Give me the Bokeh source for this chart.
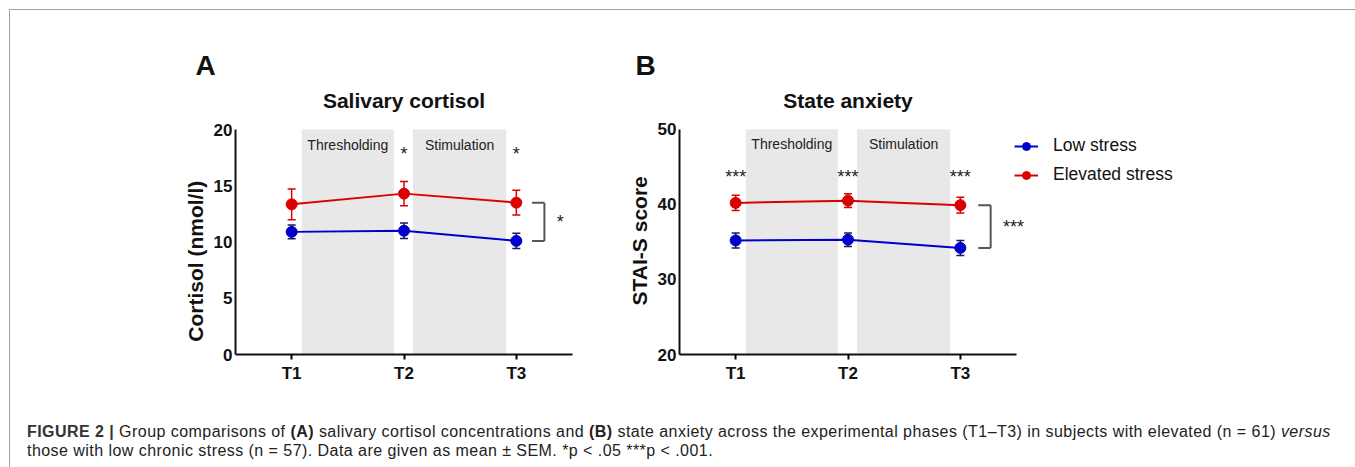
from bokeh.plotting import figure
from bokeh.models import (Range1d, FixedTicker, Label, Legend, LegendItem, Whisker,
                          ColumnDataSource, Div, TeeHead, Title)
from bokeh.layouts import row, column
from bokeh.embed import file_html
from bokeh.resources import INLINE
from bokeh.core.properties import value

# ---------------- data ----------------
phases = ["T1", "T2", "T3"]
xpos = [1, 2, 3]

cort_low = [10.9, 11.0, 10.1]
cort_low_sem = [0.62, 0.68, 0.68]
cort_high = [13.35, 14.3, 13.5]
cort_high_sem = [1.37, 1.07, 1.1]
cort_stars = ["", "*", "*"]
cort_group_star = "*"

anx_low = [35.2, 35.3, 34.2]
anx_low_sem = [1.0, 0.9, 1.0]
anx_high = [40.2, 40.5, 39.9]
anx_high_sem = [1.0, 0.9, 1.05]
anx_stars = ["***", "***", "***"]
anx_group_star = "***"

phase_names = ["Thresholding", "Stimulation"]
phase_start = [1.09, 2.08]
phase_end = [1.91, 2.91]

series_names = ["Low stress", "Elevated stress"]

RED = "#dd0000"
BLUE = "#0000cc"
BLUE_ERR = "#1c1c50"
FONT = "Liberation Sans"
NBSP = "\u00a0"

CANVAS_H = 390
FRAME_TOP = 70  # px from canvas top


def make_panel(letter, title, ylabel, ylabel_pad, ymin, ymax, yticks, low, low_sem, high, high_sem,
               stars, star_y, group_star, bracket_x, phase_label_y, title_y,
               width, min_left, frame_w, frame_h_axis, bottom_border, letter_offset,
               legend=False):
    px_per_x = frame_w / 3.0
    frame_w_total = width - min_left
    x_end = 0.5 + frame_w_total / px_per_x
    frame_h_total = CANVAS_H - FRAME_TOP - bottom_border
    px_per_y = frame_h_axis / (ymax - ymin)
    y_end = ymin + frame_h_total / px_per_y

    p = figure(width=width, height=CANVAS_H, output_backend="svg", toolbar_location=None,
               x_range=Range1d(0.5, x_end), y_range=Range1d(ymin, y_end),
               min_border_left=min_left, min_border_right=0,
               min_border_top=FRAME_TOP, min_border_bottom=bottom_border,
               background_fill_color=None, border_fill_color=None, outline_line_color=None)
    p.grid.visible = False

    # panel letter as a title in the top panel
    t = Title(text=letter, align="left", offset=letter_offset, standoff=0,
              text_font=FONT, text_font_size="28px", text_font_style="bold",
              text_color="#111111", vertical_align="bottom")
    p.add_layout(t, "above")

    # shaded phases
    p.quad(left=phase_start, right=phase_end, bottom=[ymin] * 2, top=[ymax] * 2,
           fill_color="#e8e8e8", line_color=None)
    p.text(x=[(a + b) / 2 for a, b in zip(phase_start, phase_end)], y=[phase_label_y] * 2,
           text=phase_names, text_font=value(FONT), text_font_size="14px",
           text_color="#222222", text_align="center", text_baseline="middle")

    # error bars
    for vals, sems, col in [(low, low_sem, BLUE_ERR), (high, high_sem, RED)]:
        src = ColumnDataSource(dict(x=xpos, lo=[v - s for v, s in zip(vals, sems)],
                                    hi=[v + s for v, s in zip(vals, sems)]))
        w = Whisker(base="x", lower="lo", upper="hi", source=src,
                    line_color=col, line_width=1.5,
                    upper_head=TeeHead(size=8, line_color=col, line_width=1.5),
                    lower_head=TeeHead(size=8, line_color=col, line_width=1.5))
        p.add_layout(w)

    rends = []
    for vals, col in [(low, BLUE), (high, RED)]:
        l = p.line(xpos, vals, line_color=col, line_width=2)
        s = p.scatter(xpos, vals, size=11, fill_color=col, line_color=col)
        rends.append([l, s])

    # significance stars above time points
    p.text(x=xpos, y=[star_y] * 3, text=stars, text_font=value(FONT), text_font_size="18px",
           text_color="#222222", text_align="center", text_baseline="middle")

    # group bracket
    top_v, bot_v = high[2], low[2]
    bx0, bx1 = bracket_x
    p.segment(x0=[bx0, bx1, bx0], y0=[top_v, top_v, bot_v], x1=[bx1, bx1, bx1],
              y1=[top_v, bot_v, bot_v], line_color="#555555", line_width=2)
    p.add_layout(Label(x=bx1 + 0.11, y=(top_v + bot_v) / 2, text=group_star,
                       text_font=FONT, text_font_size="18px", text_color="#222222",
                       text_align="left", text_baseline="middle"))

    # chart title
    p.add_layout(Label(x=2.0, y=title_y, text=title, text_font=FONT,
                       text_font_size="21px", text_font_style="bold", text_color="#111111",
                       text_align="center", text_baseline="alphabetic"))

    # axes
    p.xaxis.ticker = FixedTicker(ticks=xpos)
    p.xaxis.major_label_overrides = {x: lab for x, lab in zip(xpos, phases)}
    p.xaxis.bounds = (0.5, 3.5)
    p.yaxis.ticker = FixedTicker(ticks=yticks)
    p.yaxis.bounds = (ymin, ymax)
    for ax in (p.xaxis[0], p.yaxis[0]):
        ax.axis_line_width = 2
        ax.axis_line_color = "#111111"
        ax.minor_tick_line_color = None
        ax.major_label_text_font = FONT
        ax.major_label_text_font_size = "17px"
        ax.major_label_text_font_style = "bold"
        ax.major_label_text_color = "#111111"
    p.xaxis.major_tick_out = 5
    p.xaxis.major_tick_in = 0
    p.xaxis.major_tick_line_width = 2
    p.xaxis.major_label_standoff = 4
    p.yaxis.major_tick_out = 0
    p.yaxis.major_tick_in = 0
    p.yaxis.major_tick_line_color = None
    p.yaxis.major_label_standoff = 3
    # trailing non-breaking spaces shift the visible label down along the axis
    p.yaxis.axis_label = ylabel + NBSP * ylabel_pad
    p.yaxis.axis_label_text_font = FONT
    p.yaxis.axis_label_text_font_size = "21px"
    p.yaxis.axis_label_text_font_style = "bold"
    p.yaxis.axis_label_text_color = "#111111"
    p.yaxis.axis_label_standoff = 4

    if legend:
        items = [LegendItem(label=n, renderers=r) for n, r in zip(series_names, rends)]
        lg = Legend(items=items, location=(335, 169), padding=0, margin=0,
                    border_line_color=None, background_fill_alpha=0,
                    glyph_width=24, glyph_height=20, label_height=20, spacing=8,
                    label_standoff=15, label_text_font=FONT, label_text_font_size="17.5px",
                    label_text_color="#111111")
        p.add_layout(lg)
    return p


pA = make_panel("A", "Salivary cortisol", "Cortisol (nmol/l)", 15, 0, 20, [0, 5, 10, 15, 20],
                cort_low, cort_low_sem, cort_high, cort_high_sem,
                cort_stars, 17.8, cort_group_star, (3.14, 3.25), 18.65, 22.55,
                width=610, min_left=225, frame_w=337, frame_h_axis=225, bottom_border=46,
                letter_offset=-40)
pB = make_panel("B", "State anxiety", "STAI-S score", 8, 20, 50, [20, 30, 40, 50],
                anx_low, anx_low_sem, anx_high, anx_high_sem,
                anx_stars, 43.6, anx_group_star, (3.16, 3.27), 48.0, 53.85,
                width=733, min_left=59, frame_w=337, frame_h_axis=226, bottom_border=45,
                letter_offset=-44, legend=True)

caption_html = (
    '<div style="font-family:\'Liberation Sans\',Arial,sans-serif;font-size:16px;'
    'letter-spacing:0.45px;line-height:19px;color:#222;padding:17px 0 0 12px;'
    'white-space:nowrap;">'
    '<b style="color:#333">FIGURE 2 |</b> Group comparisons of <b>(A)</b> salivary cortisol '
    'concentrations and <b>(B)</b> state anxiety across the experimental phases (T1–T3) in '
    'subjects with elevated (n = 61) <i>versus</i><br>those with low chronic stress (n = 57). '
    'Data are given as mean ± SEM. *p &lt; .05 ***p &lt; .001.</div>'
)
cap = Div(text=caption_html, width=1343, height=57)

layout = column(row(pA, pB), cap,
                styles={"border": "1px solid #a0a0a0", "border-bottom": "none"},
                margin=(9, 0, 0, 9))

open("out.html", "w").write(file_html(layout, INLINE))
